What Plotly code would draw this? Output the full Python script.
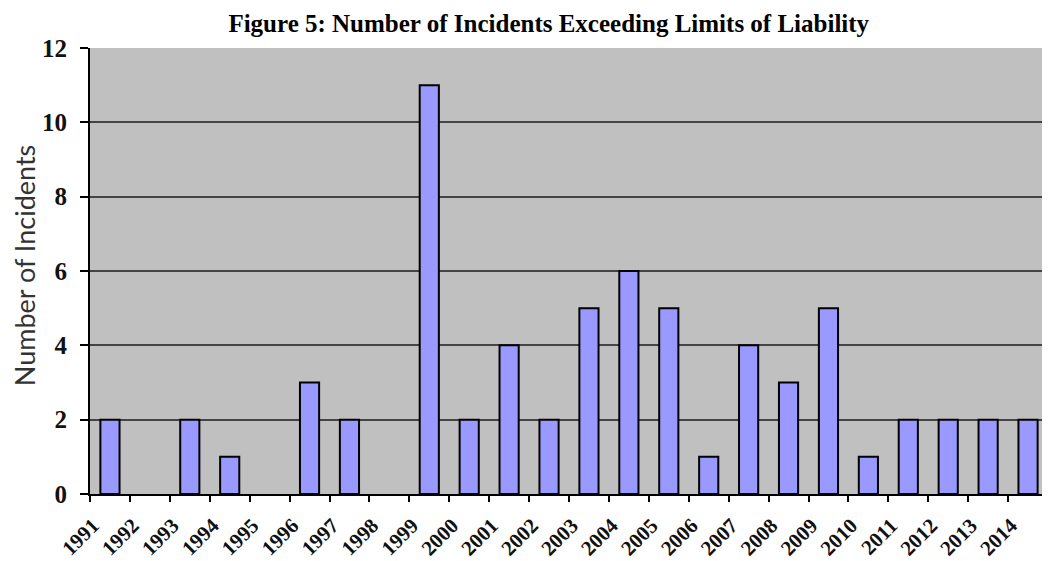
import plotly.graph_objects as go

years = [str(y) for y in range(1991, 2015)]
incidents = [2, 0, 2, 1, 0, 3, 2, 0, 11, 2, 4, 2, 5, 6, 5, 1, 4, 3, 5, 1, 2, 2, 2, 2]
y_ticks = [0, 2, 4, 6, 8, 10, 12]

outline_widths = [2 if v > 0 else 0 for v in incidents]

fig = go.Figure()
fig.add_trace(go.Bar(
    x=years, y=incidents,
    width=0.48,
    marker=dict(color="#9999ff", line=dict(color="#000000", width=outline_widths)),
))

fig.update_layout(
    width=1050, height=561,
    margin=dict(l=82, r=10, t=40, b=75, autoexpand=False),
    paper_bgcolor="#ffffff",
    plot_bgcolor="#c0c0c0",
    showlegend=False,
    title=dict(
        text="<b>Figure 5: Number of Incidents Exceeding Limits of Liability</b>",
        x=0.515, xanchor="center", y=0.988, yanchor="top",
        font=dict(family="Liberation Serif, Times New Roman, serif", size=25, color="#000000"),
    ),
    bargap=0.5,
    annotations=[dict(
        text="Number of Incidents", textangle=-90,
        xref="paper", yref="paper", x=0, y=0.513,
        xanchor="center", yanchor="middle", xshift=-66, showarrow=False,
        font=dict(family="Lato, Carlito, Calibri, sans-serif", size=27, color="#333333"),
    )],
)

fig.update_xaxes(
    type="category",
    automargin=False,
    tickson="boundaries",
    ticks="outside", ticklen=6, tickwidth=2, tickcolor="#000000",
    showline=True, linecolor="#000000", linewidth=2,
    showgrid=False,
    tickangle=-45,
    ticklabelstandoff=9,
    ticklabelshift=-17,
    tickfont=dict(family="Liberation Serif, Times New Roman, serif", size=21, color="#111111", weight="bold"),
)

fig.update_yaxes(
    range=[0, 12],
    automargin=False,
    tickvals=y_ticks,
    ticks="outside", ticklen=8, tickwidth=2, tickcolor="#000000",
    showline=True, linecolor="#000000", linewidth=2,
    showgrid=True, gridcolor="#444444", gridwidth=1.5,
    zeroline=False,
    ticklabelstandoff=8,
    tickfont=dict(family="Liberation Serif, Times New Roman, serif", size=25, color="#111111", weight="bold"),
)

fig.write_html("out.html")
